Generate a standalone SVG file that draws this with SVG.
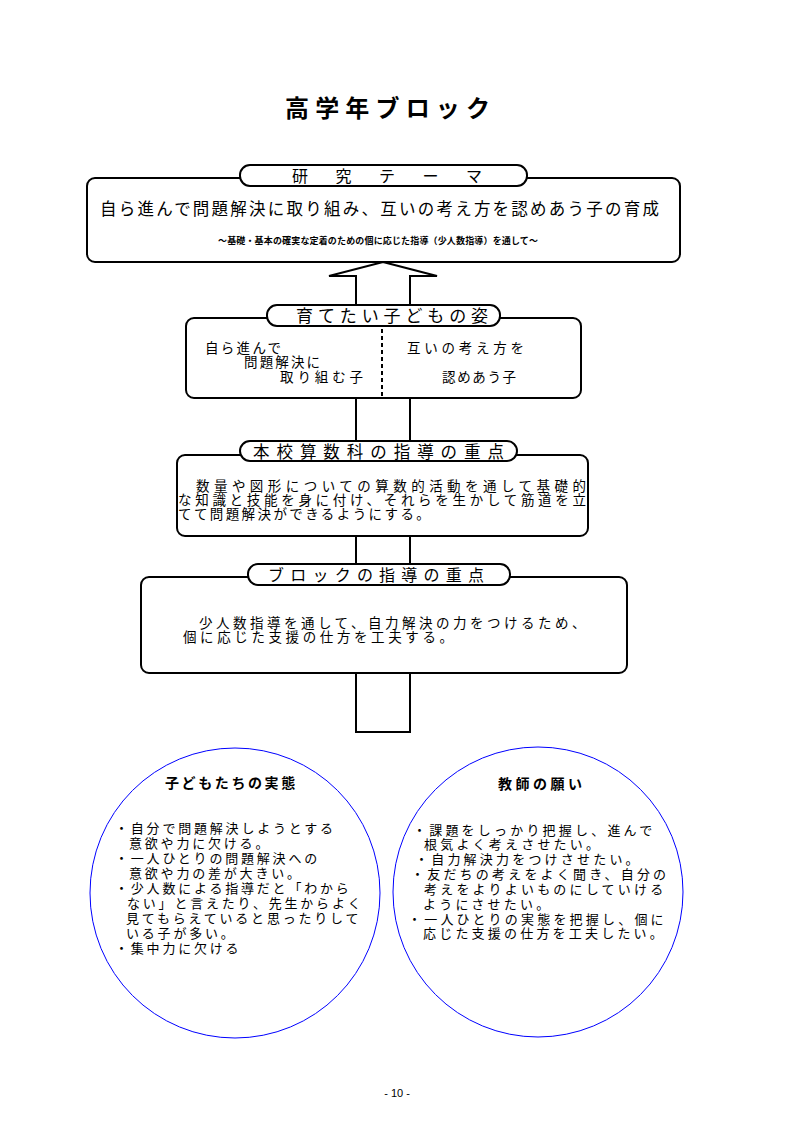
<svg xmlns="http://www.w3.org/2000/svg" width="794" height="1123" viewBox="0 0 794 1123">
<style>
.box{fill:#fff;stroke:#000;stroke-width:2}
.pill{fill:#fff;stroke:#000;stroke-width:2}
.t{font-family:"Noto Sans CJK JP","Noto Sans CJK SC",sans-serif;fill:#000}
.b14{font-size:13.5px}
.c{font-size:13px}
.circ{fill:#fff;stroke:#0000ff;stroke-width:1}
.shaft{fill:#fff;stroke:#000;stroke-width:2;stroke-linejoin:miter}
</style>
<rect x="0" y="0" width="794" height="1123" fill="#fff"/>

<g id="connectors">
<polygon class="shaft" points="383,262 437,276 410,276 410,732 356,732 356,276 329,276"/>
</g>

<g id="title">
<text class="t" x="285" y="117" font-size="24" font-weight="bold" textLength="205" lengthAdjust="spacing">高学年ブロック</text>
</g>

<g id="theme">
<rect class="box" x="87" y="178" width="593" height="84" rx="8"/>
<rect class="pill" x="240" y="165" width="287" height="21" rx="10"/>
<text class="t" x="292" y="182" font-size="16" textLength="190" lengthAdjust="spacing">研　究　テ　ー　マ</text>
<text class="t" x="100" y="215" font-size="16.5" textLength="559" lengthAdjust="spacing">自ら進んで問題解決に取り組み、互いの考え方を認めあう子の育成</text>
<text class="t" x="218" y="243.5" font-size="9" font-weight="bold" textLength="320" lengthAdjust="spacing">～基礎・基本の確実な定着のための個に応じた指導（少人数指導）を通して～</text>
</g>

<g id="sugata">
<rect class="box" x="186" y="318" width="395" height="80" rx="8"/>
<rect class="pill" x="267" y="305" width="233" height="21" rx="10"/>
<text class="t" x="296" y="322" font-size="17" textLength="192" lengthAdjust="spacing">育てたい子どもの姿</text>
<line x1="382" y1="329" x2="382" y2="397" stroke="#000" stroke-width="2" stroke-dasharray="4 3"/>
<text class="t b14" x="205" y="353" textLength="76" lengthAdjust="spacing">自ら進んで</text>
<text class="t b14" x="244" y="367" textLength="76" lengthAdjust="spacing">問題解決に</text>
<text class="t b14" x="280" y="382" textLength="83" lengthAdjust="spacing">取り組む子</text>
<text class="t b14" x="407" y="353" textLength="117" lengthAdjust="spacing">互いの考え方を</text>
<text class="t b14" x="442" y="382" textLength="74" lengthAdjust="spacing">認めあう子</text>
</g>

<g id="honkou">
<rect class="box" x="177" y="455" width="411" height="81" rx="8"/>
<rect class="pill" x="240" y="441" width="277" height="20" rx="10"/>
<text class="t" x="253" y="457.5" font-size="16.5" textLength="251" lengthAdjust="spacing">本校算数科の指導の重点</text>
<text class="t b14" x="178" y="491" textLength="408" lengthAdjust="spacing">　数量や図形についての算数的活動を通して基礎的</text>
<text class="t b14" x="178" y="505" textLength="408" lengthAdjust="spacing">な知識と技能を身に付け、それらを生かして筋道を立</text>
<text class="t b14" x="178" y="519" letter-spacing="2.4">てて問題解決ができるようにする。</text>
</g>

<g id="block">
<rect class="box" x="141" y="577" width="486" height="96" rx="8"/>
<rect class="pill" x="248" y="564" width="262" height="21" rx="10"/>
<text class="t" x="268" y="581" font-size="16" textLength="216" lengthAdjust="spacing">ブロックの指導の重点</text>
<text class="t b14" x="182" y="628" letter-spacing="3.5">　少人数指導を通して、自力解決の力をつけるため、</text>
<text class="t b14" x="183" y="642" letter-spacing="3.6">個に応じた支援の仕方を工夫する。</text>
</g>

<g id="jittai">
<circle class="circ" cx="235" cy="893" r="145"/>
<text class="t" x="165" y="788" font-size="14" font-weight="bold" letter-spacing="2.6">子どもたちの実態</text>
<g class="t c" letter-spacing="2.8">
<text x="115" y="833">・自分で問題解決しようとする</text>
<text x="129" y="848">意欲や力に欠ける。</text>
<text x="115" y="863">・一人ひとりの問題解決への</text>
<text x="129" y="878">意欲や力の差が大きい。</text>
<text x="115" y="892.5">・少人数による指導だと「わから</text>
<text x="127" y="907.5">ない」と言えたり、先生からよく</text>
<text x="126" y="922.5">見てもらえていると思ったりして</text>
<text x="126" y="937.5">いる子が多い。</text>
<text x="115" y="952.5">・集中力に欠ける</text>
</g>
</g>

<g id="negai">
<circle class="circ" cx="538" cy="892" r="145"/>
<text class="t" x="498" y="789" font-size="14" font-weight="bold" letter-spacing="3.5">教師の願い</text>
<g class="t c" letter-spacing="3.2">
<text x="413" y="835">・課題をしっかり把握し、進んで</text>
<text x="424" y="849">根気よく考えさせたい。</text>
<text x="415" y="863.5">・自力解決力をつけさせたい。</text>
<text x="411" y="878.5">・友だちの考えをよく聞き、自分の</text>
<text x="424" y="893.5">考えをよりよいものにしていける</text>
<text x="423" y="908.5">ようにさせたい。</text>
<text x="408" y="923.5">・一人ひとりの実態を把握し、個に</text>
<text x="423" y="938">応じた支援の仕方を工夫したい。</text>
</g>
</g>

<text x="397" y="1097" font-family="Liberation Sans, sans-serif" font-size="11" text-anchor="middle" fill="#000">- 10 -</text>
</svg>
